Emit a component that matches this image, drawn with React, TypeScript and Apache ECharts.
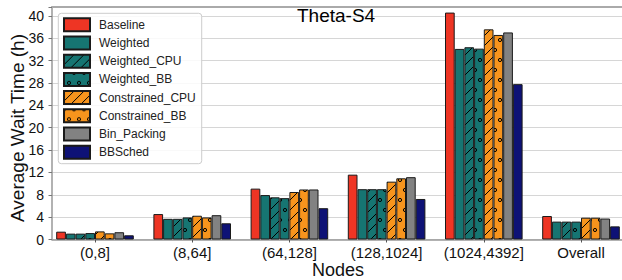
import React, { useEffect, useRef } from 'react';
import * as echarts from 'echarts';

const categories = ['(0,8]', '(8,64]', '(64,128]', '(128,1024]', '(1024,4392]', 'Overall'];
const seriesNames = ['Baseline', 'Weighted', 'Weighted_CPU', 'Weighted_BB', 'Constrained_CPU', 'Constrained_BB', 'Bin_Packing', 'BBSched'];

const baseline = [1.4, 4.55, 9.1, 11.6, 40.6, 4.2];
const weighted = [1.05, 3.7, 7.95, 9.0, 34.1, 3.2];
const weightedCPU = [1.05, 3.7, 7.55, 9.0, 34.4, 3.2];
const weightedBB = [1.15, 3.95, 7.4, 9.0, 34.15, 3.2];
const constrainedCPU = [1.45, 4.25, 8.5, 10.35, 37.6, 3.9];
const constrainedBB = [1.1, 3.95, 8.95, 10.95, 36.6, 3.9];
const binPacking = [1.3, 4.35, 8.95, 11.15, 37.05, 3.75];
const bbsched = [0.75, 2.9, 5.6, 7.25, 27.8, 2.35];

const seriesData = [baseline, weighted, weightedCPU, weightedBB, constrainedCPU, constrainedBB, binPacking, bbsched];

const RED = '#EE3524';
const TEAL = '#167572';
const ORANGE = '#F7941D';
const GRAY = '#828282';
const NAVY = '#0E1276';

const seriesColors = [RED, TEAL, TEAL, TEAL, ORANGE, ORANGE, GRAY, NAVY];
const seriesHatch = ['', '', '/', 'o', '/', 'o', '', ''];

const FONT = 'Liberation Sans, Arial, Helvetica, sans-serif';

function makeFill(color: string, hatch: string): any {
  if (!hatch) return color;
  const c = document.createElement('canvas');
  if (hatch === '/') {
    c.width = 10;
    c.height = 10;
    const ctx = c.getContext('2d')!;
    ctx.fillStyle = color;
    ctx.fillRect(0, 0, 10, 10);
    ctx.strokeStyle = '#000';
    ctx.lineWidth = 1;
    ctx.beginPath();
    ctx.moveTo(-1, 11);
    ctx.lineTo(11, -1);
    ctx.moveTo(-6, 6);
    ctx.lineTo(6, -6);
    ctx.moveTo(4, 16);
    ctx.lineTo(16, 4);
    ctx.stroke();
  } else {
    c.width = 10;
    c.height = 20;
    const ctx = c.getContext('2d')!;
    ctx.fillStyle = color;
    ctx.fillRect(0, 0, 10, 20);
    ctx.strokeStyle = '#000';
    ctx.lineWidth = 1;
    const pts = [[0, 0], [10, 0], [0, 20], [10, 20], [5, 10]];
    for (const [x, y] of pts) {
      ctx.beginPath();
      ctx.arc(x, y, 1.6, 0, Math.PI * 2);
      ctx.stroke();
    }
  }
  return { image: c, repeat: 'repeat', imageWidth: c.width, imageHeight: c.height };
}

export default function App() {
  const ref = useRef<HTMLDivElement>(null);

  useEffect(() => {
    document.body.style.margin = '0';
    const chart = echarts.init(ref.current!, undefined, { renderer: 'svg' });
    const fills = seriesColors.map((c, i) => makeFill(c, seriesHatch[i]));

    const option: any = {
      animation: false,
      textStyle: { fontFamily: FONT },
      title: {
        text: 'Theta-S4',
        left: 297,
        top: 6,
        padding: 0,
        textStyle: { fontSize: 19, fontWeight: 'normal', color: '#000', fontFamily: FONT },
      },
      graphic: [
        {
          type: 'text',
          x: 17,
          y: 128,
          rotation: Math.PI / 2,
          silent: true,
          style: {
            text: 'Average Wait Time (h)',
            fontSize: 19,
            fontFamily: FONT,
            fill: '#111',
            textAlign: 'center',
            textVerticalAlign: 'middle',
          },
        },
      ],
      legend: {
        orient: 'vertical',
        left: 58.3,
        top: 13.3,
        padding: [4, 6, 4, 4.7],
        itemGap: 3.2,
        itemWidth: 26,
        itemHeight: 13,
        icon: 'rect',
        backgroundColor: 'rgba(255,255,255,0.85)',
        borderColor: '#cccccc',
        borderWidth: 1,
        borderRadius: 3,
        textStyle: { fontSize: 12, color: '#222', fontFamily: FONT, padding: [0, 0, 0, 4] },
        data: seriesNames,
      },
      grid: [
        { left: 52, top: 7, width: 570, height: 232.5, outerBoundsMode: 'none', containLabel: false },
        { left: 46.4, top: 7, width: 583.2, height: 232.5, outerBoundsMode: 'none', containLabel: false },
      ],
      xAxis: [
        {
          gridIndex: 0,
          type: 'value',
          min: 0,
          max: 1,
          position: 'bottom',
          axisLine: { show: true, onZero: false, lineStyle: { color: '#999', width: 1.5 } },
          axisTick: { show: false },
          axisLabel: { show: false },
          splitLine: { show: false },
        },
        {
          gridIndex: 0,
          type: 'value',
          min: 0,
          max: 1,
          position: 'top',
          axisLine: { show: true, onZero: false, lineStyle: { color: '#aaa', width: 2 } },
          axisTick: { show: false },
          axisLabel: { show: false },
          splitLine: { show: false },
        },
        {
          gridIndex: 1,
          type: 'category',
          data: categories,
          axisLine: { show: false },
          axisTick: { show: true, alignWithLabel: true, length: 3, lineStyle: { color: '#555' } },
          axisLabel: { fontSize: 15, color: '#111', margin: 5, fontFamily: FONT, interval: 0 },
          splitLine: { show: false },
          name: 'Nodes',
          nameLocation: 'middle',
          nameMoveOverlap: false,
          nameGap: 21,
          nameTextStyle: { fontSize: 18, lineHeight: 18, color: '#111', fontFamily: FONT },
        },
      ],
      yAxis: [
        {
          gridIndex: 0,
          type: 'value',
          min: 0,
          max: 41.6,
          interval: 4,
          axisLine: { show: true, onZero: false, lineStyle: { color: '#999', width: 1.5 } },
          axisTick: { show: true, length: 3.5, lineStyle: { color: '#777' } },
          axisLabel: {
            fontSize: 14,
            color: '#111',
            margin: 8,
            fontFamily: FONT,
            formatter: (v: number) => (Math.abs(v % 4) < 1e-6 ? String(v) : ''),
          },
          splitLine: { show: true, lineStyle: { color: '#d6d6d6', width: 1 } },
        },
        {
          gridIndex: 1,
          type: 'value',
          min: 0,
          max: 41.6,
          axisLine: { show: false },
          axisTick: { show: false },
          axisLabel: { show: false },
          splitLine: { show: false },
        },
      ],
      series: seriesNames.map((name, i) => ({
        type: 'bar',
        name,
        data: seriesData[i],
        xAxisIndex: 2,
        yAxisIndex: 1,
        barWidth: 9.7,
        barGap: '0%',
        silent: true,
        emphasis: { disabled: true },
        itemStyle: { color: fills[i], borderColor: '#1a1a1a', borderWidth: 1 },
      })),
    };

    chart.setOption(option);
    return () => chart.dispose();
  }, []);

  return (
    <div
      ref={ref}
      style={{ position: 'absolute', left: 0, top: 0, width: 622, height: 280 }}
    />
  );
}
